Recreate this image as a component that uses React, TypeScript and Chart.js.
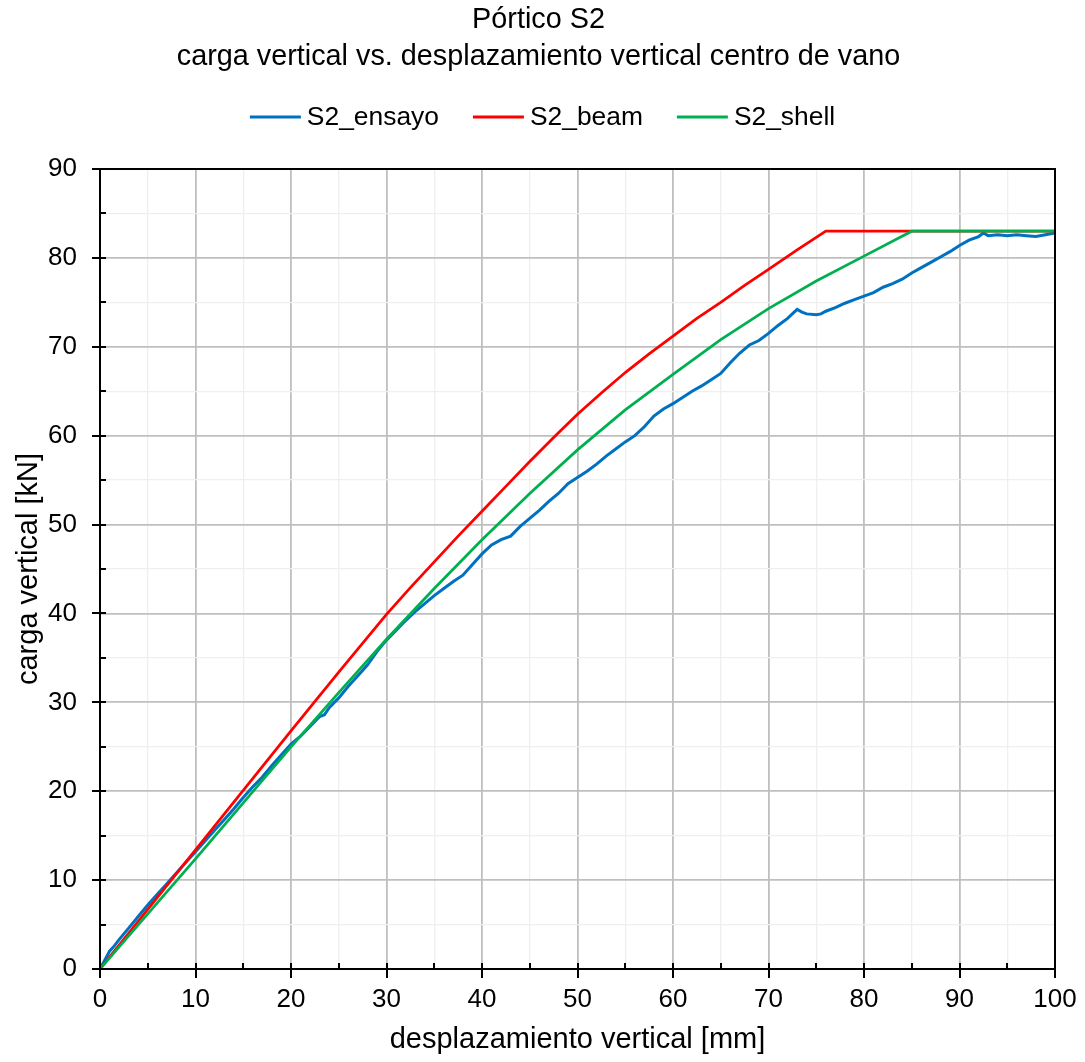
import React, { useEffect, useRef } from "react";
import { Chart, registerables } from "chart.js";

Chart.register(...registerables);

const titleLines = ["Pórtico S2", "carga vertical vs. desplazamiento vertical centro de vano"];
const xTitle = "desplazamiento vertical [mm]";
const yTitle = "carga vertical [kN]";
const seriesNames = ["S2_ensayo", "S2_beam", "S2_shell"];
const seriesColors = ["#0070c0", "#ff0000", "#00b050"];

const ensayoX = [0, 0.5, 1, 1.5, 2, 3, 4, 5, 6, 7, 8, 9, 10, 11, 12, 13, 14, 15, 16, 17, 18, 19, 20, 21, 22, 23, 23.5, 24, 25, 26, 27, 28, 29, 30, 31, 32, 33, 34, 35, 36, 37, 38, 39, 40, 41, 42, 43, 44, 45, 46, 47, 48, 49, 50, 51, 52, 53, 54, 55, 56, 57, 58, 59, 60, 61, 62, 63, 64, 65, 66, 67, 68, 69, 70, 71, 72, 73, 73.5, 74, 75, 75.5, 76, 77, 78, 79, 80, 81, 82, 83, 84, 85, 86, 87, 88, 89, 90, 91, 92, 92.5, 93, 94, 95, 96, 97, 98, 99, 100];
const ensayoY = [0, 1.0, 2.0, 2.6, 3.3, 4.6, 5.9, 7.2, 8.4, 9.6, 10.8, 12.0, 13.2, 14.4, 15.6, 16.8, 18.0, 19.3, 20.5, 21.6, 22.9, 24.1, 25.3, 26.2, 27.3, 28.4, 28.6, 29.4, 30.5, 31.8, 33.0, 34.2, 35.7, 37.0, 38.1, 39.2, 40.2, 41.1, 42.0, 42.8, 43.6, 44.3, 45.5, 46.7, 47.7, 48.3, 48.7, 49.8, 50.7, 51.6, 52.6, 53.5, 54.6, 55.3, 56.0, 56.8, 57.7, 58.5, 59.3, 60.0, 61.0, 62.2, 63.0, 63.6, 64.3, 65.0, 65.6, 66.3, 67.0, 68.2, 69.3, 70.2, 70.7, 71.5, 72.4, 73.2, 74.2, 73.9, 73.7, 73.6, 73.7, 74.0, 74.4, 74.9, 75.3, 75.7, 76.1, 76.7, 77.1, 77.6, 78.3, 78.9, 79.5, 80.1, 80.7, 81.4, 82.0, 82.4, 82.8, 82.5, 82.6, 82.5, 82.6, 82.5, 82.4, 82.6, 82.8];

const beamX = [0, 5, 10, 15, 20, 25, 30, 32.5, 35, 37.5, 40, 42.5, 45, 47.5, 50, 52.5, 55, 57.5, 60, 62.5, 65, 67.5, 70, 73, 76, 100];
const beamY = [0, 6.7, 13.4, 20.1, 26.8, 33.4, 39.9, 42.9, 45.8, 48.7, 51.5, 54.3, 57.1, 59.8, 62.4, 64.8, 67.1, 69.2, 71.2, 73.2, 75.0, 76.9, 78.7, 80.9, 83.0, 83.0];

const shellX = [0, 5, 10, 15, 20, 25, 30, 35, 40, 45, 50, 55, 60, 65, 70, 75, 80, 85, 100];
const shellY = [0, 6.2, 12.4, 18.7, 25.0, 31.1, 37.1, 42.8, 48.3, 53.5, 58.4, 62.9, 66.9, 70.8, 74.3, 77.4, 80.2, 83.0, 83.0];

const xMin = 0, xMax = 100, xMajor = 10, xMinor = 5;
const yMin = 0, yMax = 90, yMajor = 10, yMinor = 5;

const FONT = "'Liberation Sans', Arial, sans-serif";
const TITLE_SIZE = 28.8;
const AXIS_TITLE_SIZE = 29;
const TICK_SIZE = 26;
const LEGEND_SIZE = 26.4;

const toPts = (xs: number[], ys: number[]) => xs.map((x, i) => ({ x, y: ys[i] }));

const frameTicks = {
  id: "frameTicks",
  afterDatasetsDraw(chart: any) {
    const { ctx, chartArea: a, scales } = chart;
    const xs = scales.x, ys = scales.y;
    ctx.save();
    ctx.strokeStyle = "#000";
    ctx.lineWidth = 2;
    ctx.strokeRect(a.left, a.top, a.right - a.left, a.bottom - a.top);
    ctx.beginPath();
    for (let v = xMin; v <= xMax + 1e-9; v += xMinor) {
      const px = Math.round(xs.getPixelForValue(v));
      const major = Math.abs(v % xMajor) < 1e-9;
      ctx.moveTo(px, major ? a.bottom + 9 : a.bottom);
      ctx.lineTo(px, a.bottom - 6);
    }
    for (let v = yMin; v <= yMax + 1e-9; v += yMinor) {
      const py = Math.round(ys.getPixelForValue(v));
      const major = Math.abs(v % yMajor) < 1e-9;
      ctx.moveTo(major ? a.left - 8 : a.left, py);
      ctx.lineTo(a.left + 6, py);
    }
    ctx.stroke();
    ctx.restore();
  },
};

const customLegend = {
  id: "customLegend",
  afterDraw(chart: any) {
    const { ctx, chartArea } = chart;
    ctx.save();
    ctx.font = `${LEGEND_SIZE}px ${FONT}`;
    ctx.textBaseline = "middle";
    ctx.textAlign = "left";
    const lineLen = 51, gap = 6, itemGap = 34;
    const widths = seriesNames.map((n) => ctx.measureText(n).width);
    const total = widths.reduce((s, w) => s + lineLen + gap + w, 0) + itemGap * (seriesNames.length - 1);
    let x = chart.width / 2 - total / 2;
    const y = chartArea.top - 52;
    seriesNames.forEach((name, i) => {
      ctx.strokeStyle = seriesColors[i];
      ctx.lineWidth = 3;
      ctx.beginPath();
      ctx.moveTo(x, y);
      ctx.lineTo(x + lineLen, y);
      ctx.stroke();
      ctx.fillStyle = "#000";
      ctx.fillText(name, x + lineLen + gap, y + 1);
      x += lineLen + gap + widths[i] + itemGap;
    });
    ctx.restore();
  },
};

export default function App() {
  const ref = useRef<HTMLCanvasElement | null>(null);
  useEffect(() => {
    if (!ref.current) return;
    const isMajor = (c: any, step: number) => Math.abs(c.tick.value % step) < 1e-9;
    const chart = new Chart(ref.current, {
      type: "line",
      data: {
        datasets: [
          { label: seriesNames[0], data: toPts(ensayoX, ensayoY), borderColor: seriesColors[0], backgroundColor: seriesColors[0], borderWidth: 3, pointRadius: 0, order: 3 },
          { label: seriesNames[1], data: toPts(beamX, beamY), borderColor: seriesColors[1], backgroundColor: seriesColors[1], borderWidth: 2.75, pointRadius: 0, order: 2 },
          { label: seriesNames[2], data: toPts(shellX, shellY), borderColor: seriesColors[2], backgroundColor: seriesColors[2], borderWidth: 2.75, pointRadius: 0, order: 1 },
        ],
      },
      options: {
        animation: false,
        responsive: true,
        maintainAspectRatio: false,
        parsing: false as any,
        layout: { padding: { left: 22, right: 30, top: 0, bottom: 0 } },
        plugins: {
          title: {
            display: true,
            text: titleLines,
            color: "#000",
            font: { family: FONT, size: TITLE_SIZE, weight: "normal" as any, lineHeight: 37 / TITLE_SIZE },
            padding: { top: 1.5, bottom: 93.5 },
          },
          legend: { display: false },
          tooltip: { enabled: false },
        },
        scales: {
          x: {
            type: "linear",
            min: xMin,
            max: xMax,
            afterFit: (s: any) => {
              s.height = 93;
              s.paddingLeft = 0;
              s.paddingRight = 0;
            },
            ticks: {
              stepSize: xMinor,
              color: "#000",
              font: { family: FONT, size: TICK_SIZE },
              padding: 15,
              maxRotation: 0,
              autoSkip: false,
              callback: (v: any) => (Number(v) % xMajor === 0 ? String(v) : ""),
            },
            grid: {
              color: (c: any) => (isMajor(c, xMajor) ? "#bfbfbf" : "#efefef"),
              lineWidth: (c: any) => (isMajor(c, xMajor) ? 1.8 : 1.3),
              drawTicks: false,
            },
            border: { display: false },
            title: { display: true, text: xTitle, color: "#000", font: { family: FONT, size: AXIS_TITLE_SIZE }, padding: { top: 0, bottom: 4.6 } },
          },
          y: {
            type: "linear",
            min: yMin,
            max: yMax,
            afterFit: (s: any) => {
              s.width = 78;
            },
            ticks: {
              stepSize: yMinor,
              color: "#000",
              font: { family: FONT, size: TICK_SIZE },
              padding: 23,
              autoSkip: false,
              callback: (v: any) => (Number(v) % yMajor === 0 ? String(v) : ""),
            },
            grid: {
              color: (c: any) => (isMajor(c, yMajor) ? "#bfbfbf" : "#efefef"),
              lineWidth: (c: any) => (isMajor(c, yMajor) ? 1.8 : 1.3),
              drawTicks: false,
            },
            border: { display: false },
            title: { display: true, text: yTitle, color: "#000", font: { family: FONT, size: AXIS_TITLE_SIZE }, padding: { top: -10.4, bottom: 0 } },
          },
        },
      },
      plugins: [frameTicks, customLegend],
    });
    return () => chart.destroy();
  }, []);
  return (
    <div style={{ position: "fixed", left: 0, top: 0, width: 1085, height: 1062, background: "#fff" }}>
      <canvas ref={ref} />
    </div>
  );
}
